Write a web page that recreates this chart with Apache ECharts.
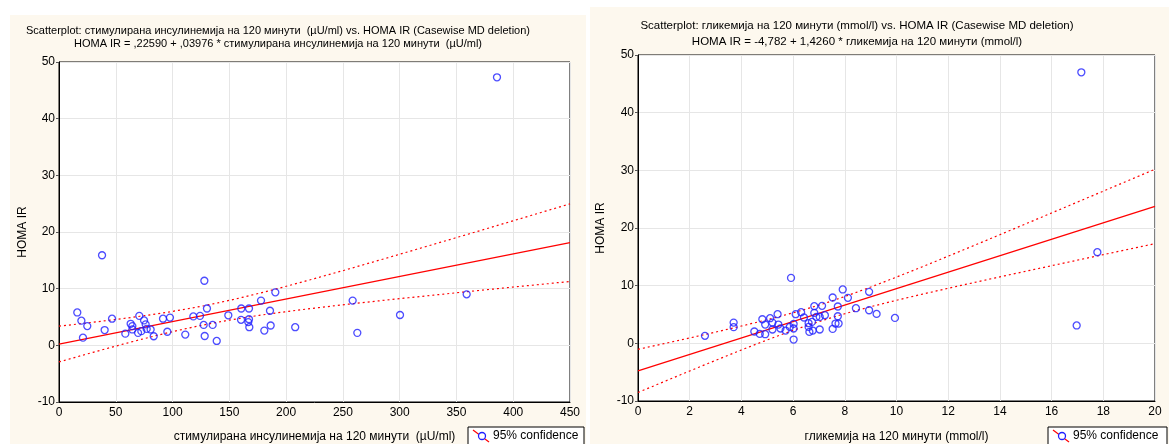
<!DOCTYPE html>
<html>
<head>
<meta charset="utf-8">
<script src="https://cdn.jsdelivr.net/npm/echarts@6/dist/echarts.min.js"></script>
<style>
html,body{margin:0;padding:0;background:#fff;}
#chart{width:1169px;height:444px;}
</style>
</head>
<body>
<div id="chart"></div>
<script>
// ---- Data ----
const leftTitle = 'Scatterplot: стимулирана инсулинемија на 120 минути  (µU/ml) vs. HOMA IR (Casewise MD deletion)\nHOMA IR = ,22590 + ,03976 * стимулирана инсулинемија на 120 минути  (µU/ml)';
const rightTitle = 'Scatterplot: гликемија на 120 минути (mmol/l) vs. HOMA IR (Casewise MD deletion)\nHOMA IR = -4,782 + 1,4260 * гликемија на 120 минути (mmol/l)';
const leftXName = 'стимулирана инсулинемија на 120 минути  (µU/ml)';
const rightXName = 'гликемија на 120 минути (mmol/l)';
const yName = 'HOMA IR';
const legendText = '95% confidence';

const leftCoef = [0.22590, 0.03976];
const rightCoef = [-4.782, 1.4260];

const leftX = [385.7, 37.9, 128, 359, 258.6, 208, 262.7, 300.3,
  16.1, 19.7, 24.9, 21.1, 40.2, 46.7, 58.4, 63.1, 64.6, 64.6, 70.7, 69.6,
  72.5, 74.9, 76.3, 77.2, 80.7, 83.4, 91.6, 97.7, 95.4, 111.2, 118.3, 124.2,
  127.4, 135.3, 128.3, 130.3, 138.9, 149.1, 160.5, 167.3, 160.3, 167.3, 166.7,
  167.6, 177.9, 185.8, 190.5, 180.8, 186.4];
const leftY = [47.3, 15.9, 11.4, 9.0, 7.9, 3.2, 2.2, 5.35,
  5.8, 4.35, 3.4, 1.35, 2.7, 4.7, 2.06, 3.8, 3.4, 2.8, 5.2, 2.2,
  2.5, 4.4, 3.7, 2.9, 2.8, 1.6, 4.7, 4.9, 2.4, 1.9, 5.1, 5.2,
  3.6, 3.6, 1.65, 6.5, 0.77, 5.3, 6.5, 6.5, 4.5, 4.6, 4.1,
  3.2, 7.9, 6.1, 9.35, 2.6, 3.5];

const rightX = [17.15, 17.77, 16.97, 5.92, 2.59, 3.70, 3.70, 4.50, 4.71, 4.92,
  4.81, 4.92, 5.11, 5.20, 5.20, 5.40, 5.43, 5.51, 5.71, 5.87, 6.02, 6.02, 6.02,
  6.10, 6.31, 6.42, 6.60, 6.60, 6.73, 6.63, 6.76, 6.82, 6.82, 6.90, 7.03, 7.12,
  7.03, 7.23, 7.53, 7.73, 7.73, 7.64, 7.76, 7.53, 7.92, 8.12, 8.43, 8.94, 8.94,
  9.23, 9.94];
const rightY = [47.0, 15.8, 3.1, 11.35, 1.3, 3.6, 2.8, 2.05, 1.64, 1.58,
  4.18, 3.26, 4.36, 3.6, 2.4, 5.05, 3.26, 2.57, 2.22, 2.85, 3.37, 2.57, 0.66,
  5.05, 5.4, 4.48, 3.49, 2.85, 3.72, 1.98, 2.22, 6.44, 5.28, 4.58, 4.58, 6.5,
  2.4, 4.88, 7.95, 6.39, 4.7, 3.43, 3.43, 2.5, 9.34, 7.89, 6.09, 8.93, 5.74,
  5.1, 4.41];

// ---- helpers: regression confidence band from the data ----
function tQuant(df){ const z=1.959964; return z + (z*z*z+z)/(4*df) + (5*Math.pow(z,5)+16*z*z*z+3*z)/(96*df*df); }
function bands(xs, ys, coef, xmin, xmax, steps){
  const n = xs.length, a = coef[0], b = coef[1];
  const xm = xs.reduce((s,v)=>s+v,0)/n;
  let sxx=0, sse=0;
  for(let i=0;i<n;i++){ sxx += (xs[i]-xm)*(xs[i]-xm); const r = ys[i]-(a+b*xs[i]); sse += r*r; }
  const s = Math.sqrt(sse/(n-2)), t = tQuant(n-2);
  const up=[], lo=[];
  for(let k=0;k<=steps;k++){
    const x = xmin + (xmax-xmin)*k/steps;
    const hw = t*s*Math.sqrt(1/n + (x-xm)*(x-xm)/sxx);
    up.push([x, a+b*x+hw]); lo.push([x, a+b*x-hw]);
  }
  return {up, lo};
}
function pairs(xs, ys){ return xs.map((x,i)=>[x, ys[i]]); }

const FONT = 'Liberation Sans, Arial, sans-serif';
const RED = '#ff0000', BLUE = '#1f1fff';
const lb = bands(leftX, leftY, leftCoef, 0, 450, 120);
const rb = bands(rightX, rightY, rightCoef, 0, 20, 120);

function xAxisCfg(gi, max, interval, name, gap){
  return { type:'value', gridIndex:gi, min:0, max:max, interval:interval,
    name:name, nameLocation:'middle', nameGap:gap,
    nameTextStyle:{color:'#000', fontSize:12, fontFamily:FONT},
    axisLine:{show:true, onZero:false, lineStyle:{color:'#000', width:1}},
    axisTick:{show:false},
    axisLabel:{color:'#000', fontSize:12, fontFamily:FONT, margin:5},
    splitLine:{show:true, lineStyle:{color:'#e6e6e6', width:1}} };
}
function yAxisCfg(gi, gap){
  return { type:'value', gridIndex:gi, min:-10, max:50, interval:10,
    name:yName, nameLocation:'middle', nameGap:gap,
    nameTextStyle:{color:'#000', fontSize:12, fontFamily:FONT},
    axisLine:{show:true, onZero:false, lineStyle:{color:'#000', width:1}},
    axisTick:{show:true, length:3, lineStyle:{color:'#555'}},
    axisLabel:{color:'#000', fontSize:12, fontFamily:FONT, margin:4},
    splitLine:{show:true, lineStyle:{color:'#e6e6e6', width:1}} };
}
function lineSeries(gi, data, dotted){
  return { type:'line', xAxisIndex:gi, yAxisIndex:gi, data:data, showSymbol:false, silent:true,
    smooth:false, z:3, lineStyle:{color:RED, width:1.2, type: dotted ? [2,3] : 'solid'} };
}
function scatterSeries(gi, data){
  return { type:'scatter', xAxisIndex:gi, yAxisIndex:gi, data:data, symbol:'circle', symbolSize:7, z:4,
    itemStyle:{color:'transparent', borderColor:BLUE, borderWidth:1.3} };
}
function legendBox(x, y, w){
  return [
    {type:'rect', shape:{x:x, y:y, width:w, height:20}, style:{fill:'#fff', stroke:'#000', lineWidth:1}},
    {type:'line', shape:{x1:x+5, y1:y+3, x2:x+21, y2:y+15}, style:{stroke:RED, lineWidth:1.2}},
    {type:'circle', shape:{cx:x+14, cy:y+9, r:3.5}, style:{fill:'#fff', stroke:BLUE, lineWidth:1.3}},
    {type:'text', x:x+25, y:y+3, style:{text:legendText, fill:'#000', fontSize:12, fontFamily:FONT}}
  ];
}

const chart = echarts.init(document.getElementById('chart'), null, {renderer:'canvas'});
chart.setOption({
  backgroundColor:'#ffffff',
  animation:false,
  graphic:[
    {type:'rect', z:-10, shape:{x:10, y:15, width:576, height:429}, style:{fill:'#fdf8ee'}},
    {type:'rect', z:-10, shape:{x:590, y:7, width:579, height:437}, style:{fill:'#fdf8ee'}},
    ...legendBox(468, 427, 116),
    ...legendBox(1048, 427, 119)
  ],
  title:[
    {text:leftTitle, left:273, top:19, textAlign:'center',
      textStyle:{fontSize:11, fontWeight:'normal', color:'#000', fontFamily:FONT, lineHeight:13}},
    {text:rightTitle, left:852, top:13, textAlign:'center',
      textStyle:{fontSize:11.5, fontWeight:'normal', color:'#000', fontFamily:FONT, lineHeight:16}}
  ],
  grid:[
    {left:59, top:62, width:511, height:340, show:true, backgroundColor:'#fff', borderColor:'#000', borderWidth:1,
      containLabel:false, outerBoundsMode:'none'},
    {left:638, top:55, width:517, height:346, show:true, backgroundColor:'#fff', borderColor:'#000', borderWidth:1,
      containLabel:false, outerBoundsMode:'none'}
  ],
  xAxis:[ xAxisCfg(0, 450, 50, leftXName, 29), xAxisCfg(1, 20, 2, rightXName, 30) ],
  yAxis:[ yAxisCfg(0, 30), yAxisCfg(1, 31) ],
  series:[
    lineSeries(0, [[0, leftCoef[0]], [450, leftCoef[0]+450*leftCoef[1]]], false),
    lineSeries(0, lb.up, true),
    lineSeries(0, lb.lo, true),
    scatterSeries(0, pairs(leftX, leftY)),
    lineSeries(1, [[0, rightCoef[0]], [20, rightCoef[0]+20*rightCoef[1]]], false),
    lineSeries(1, rb.up, true),
    lineSeries(1, rb.lo, true),
    scatterSeries(1, pairs(rightX, rightY))
  ]
});
</script>
</body>
</html>
